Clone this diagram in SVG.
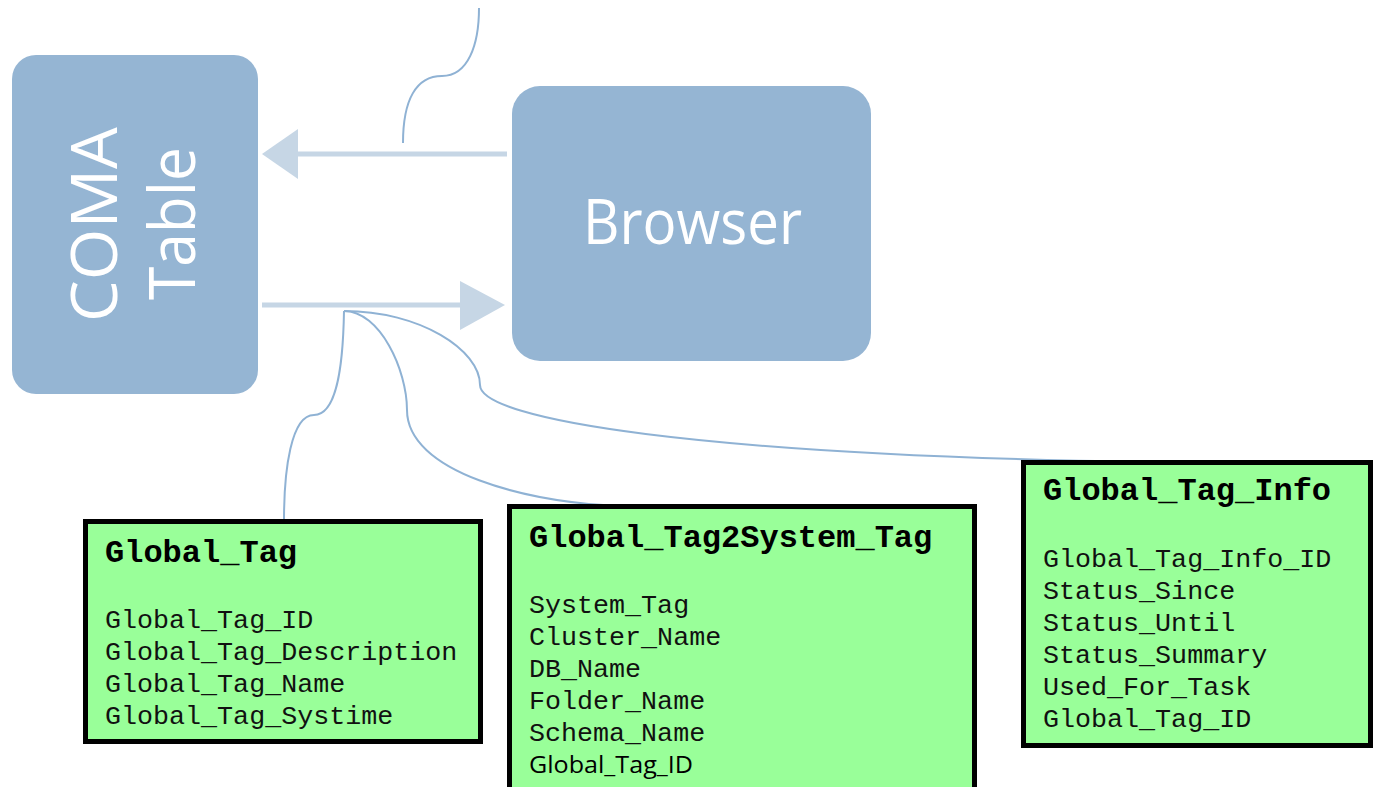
<svg xmlns="http://www.w3.org/2000/svg" width="1373" height="787" viewBox="0 0 1373 787">
<style>
.blue{fill:#95b5d3}
.lbl{fill:#ffffff;font-family:"Open Sans","Liberation Sans",sans-serif;font-weight:400}
.tbl{fill:#99ff99;stroke:#000;stroke-width:5}
.ttl{font-family:"Liberation Mono","Courier New",monospace;font-weight:bold;font-size:32px;fill:#000}
.fld{font-family:"Liberation Mono","Courier New",monospace;font-size:26.7px;fill:#111}
.sans{font-family:"Open Sans","Liberation Sans",sans-serif;font-size:23px;fill:#000}
.arr{stroke:#c6d6e5;stroke-width:5;fill:none}
.ah{fill:#c6d6e5}
.cv{stroke:#8fb2d4;stroke-width:2;fill:none}
</style>
<rect width="1373" height="787" fill="#ffffff"/>
<g id="connectors">
<path class="cv" d="M403,143 C403,100 416,76 442,76 C468,76 479,45 479,8"/>
<line class="arr" x1="507" y1="154" x2="296" y2="154"/>
<polygon class="ah" points="262,154 298,129 298,179"/>
<line class="arr" x1="262" y1="305" x2="462" y2="305"/>
<polygon class="ah" points="505,305 460,281 460,330"/>
<path class="cv" d="M344,311 C343,370 336,415 314,415 C291,415 284,470 284,520"/>
<path class="cv" d="M344,311 C380,311 407,370 407,410 C407,470 520,505 645,507"/>
<path class="cv" d="M344,311 C420,311 480,350 480,385 C480,420 700,455 1145,462"/>
</g>
<g id="coma-table">
<rect class="blue" x="12" y="55" width="246" height="339" rx="24"/>
<text class="lbl" font-size="64" text-anchor="middle" transform="translate(117,224.5) rotate(-90)" textLength="195" lengthAdjust="spacingAndGlyphs">COMA</text>
<text class="lbl" font-size="64" text-anchor="middle" transform="translate(195,223.5) rotate(-90)" textLength="153" lengthAdjust="spacingAndGlyphs">Table</text>
</g>
<g id="browser">
<rect class="blue" x="512" y="86" width="359" height="275" rx="28"/>
<text class="lbl" font-size="63" x="583" y="244" textLength="219" lengthAdjust="spacingAndGlyphs">Browser</text>
</g>
<g id="global-tag">
<rect class="tbl" x="85.5" y="521.5" width="395" height="220"/>
<text class="ttl" x="105" y="562">Global_Tag</text>
<text class="fld" x="105" y="628">Global_Tag_ID</text>
<text class="fld" x="105" y="660">Global_Tag_Description</text>
<text class="fld" x="105" y="692">Global_Tag_Name</text>
<text class="fld" x="105" y="724">Global_Tag_Systime</text>
</g>
<g id="global-tag2system-tag">
<rect class="tbl" x="509.5" y="506.5" width="465" height="300"/>
<text class="ttl" x="529" y="547">Global_Tag2System_Tag</text>
<text class="fld" x="529" y="613">System_Tag</text>
<text class="fld" x="529" y="645">Cluster_Name</text>
<text class="fld" x="529" y="677">DB_Name</text>
<text class="fld" x="529" y="709">Folder_Name</text>
<text class="fld" x="529" y="741">Schema_Name</text>
<text class="sans" x="529" y="773" textLength="164" lengthAdjust="spacingAndGlyphs">Global_Tag_ID</text>
</g>
<g id="global-tag-info">
<rect class="tbl" x="1023.5" y="462.5" width="347" height="283"/>
<text class="ttl" x="1043" y="500">Global_Tag_Info</text>
<text class="fld" x="1043" y="567">Global_Tag_Info_ID</text>
<text class="fld" x="1043" y="599">Status_Since</text>
<text class="fld" x="1043" y="631">Status_Until</text>
<text class="fld" x="1043" y="663">Status_Summary</text>
<text class="fld" x="1043" y="695">Used_For_Task</text>
<text class="fld" x="1043" y="727">Global_Tag_ID</text>
</g>
</svg>
